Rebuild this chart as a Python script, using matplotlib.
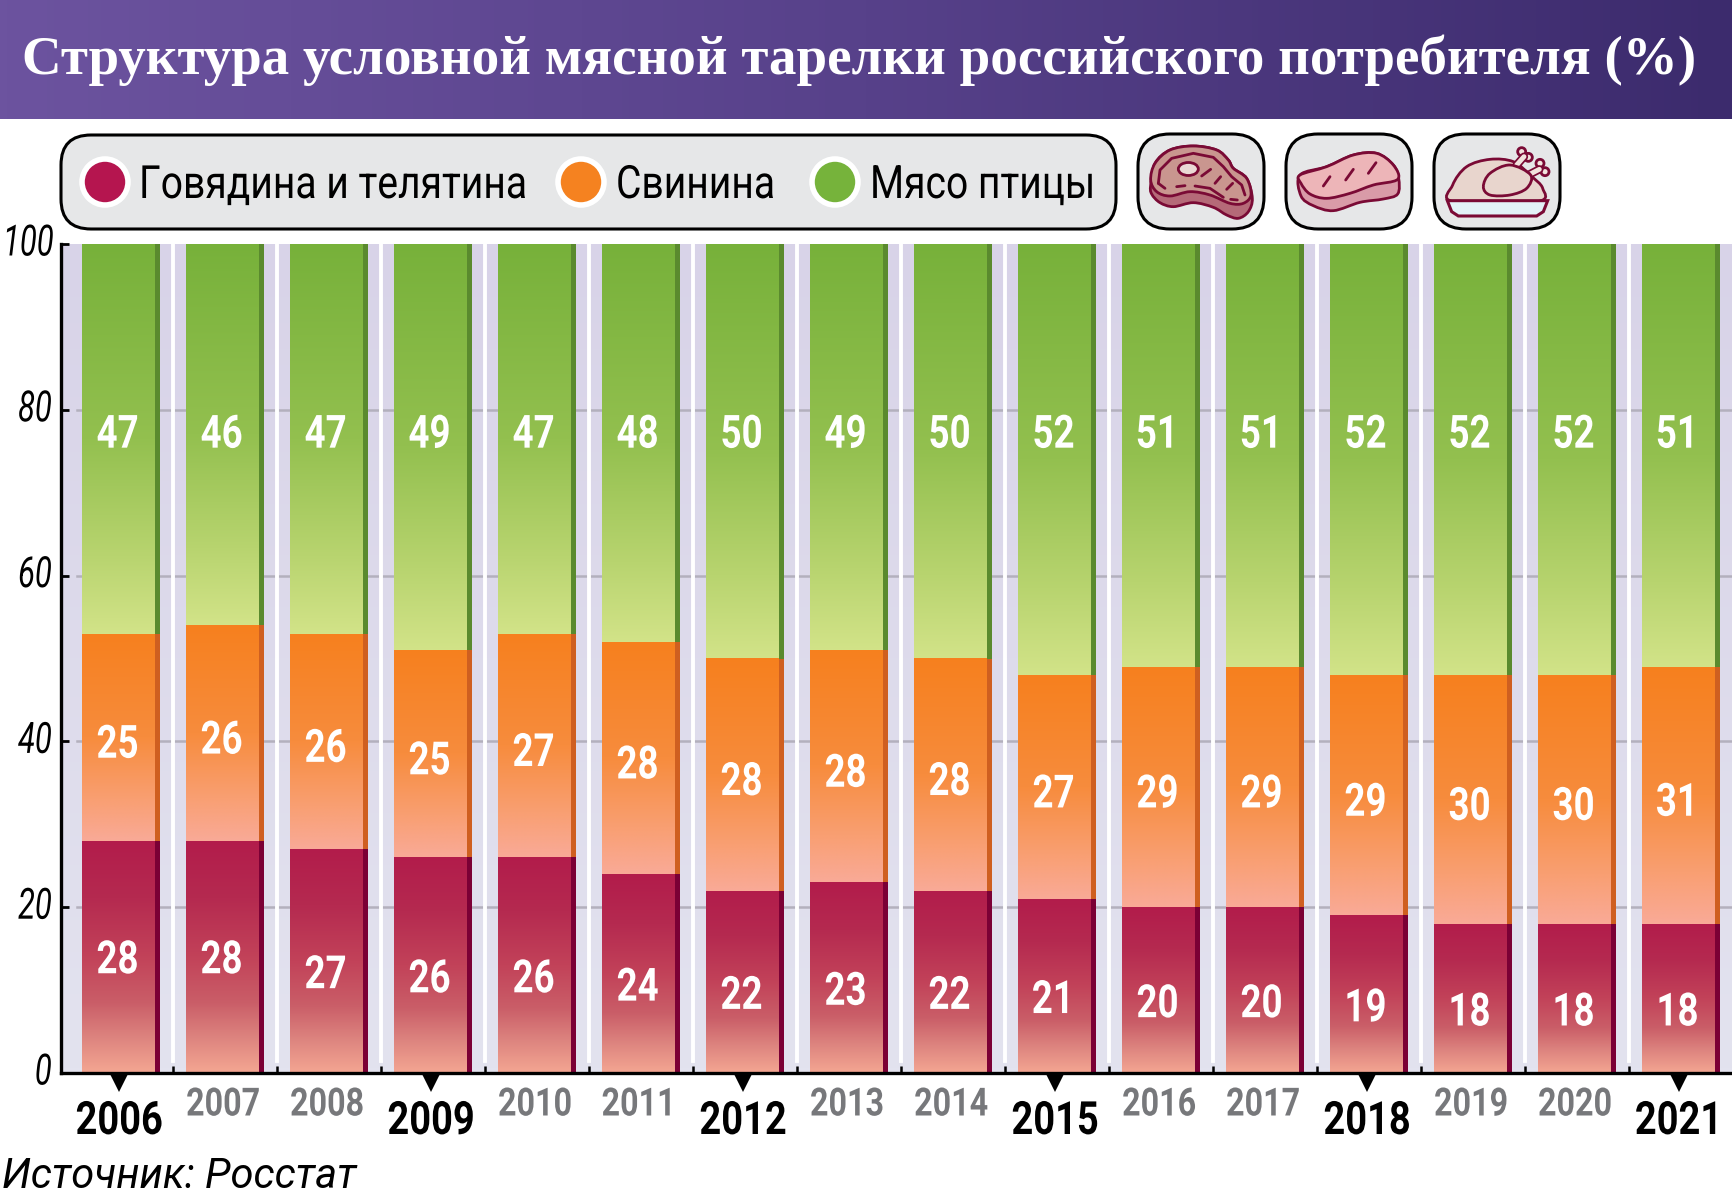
import numpy as np
import matplotlib
matplotlib.use("Agg")
import matplotlib.pyplot as plt
from matplotlib.colors import LinearSegmentedColormap
from matplotlib.patches import FancyBboxPatch, Circle, Ellipse, PathPatch, Polygon
from matplotlib.path import Path
from matplotlib.patheffects import AbstractPathEffect
from matplotlib.transforms import Affine2D

years = list(range(2006, 2022))
beef = [28, 28, 27, 26, 26, 24, 22, 23, 22, 21, 20, 20, 19, 18, 18, 18]
pork = [25, 26, 26, 25, 27, 28, 28, 28, 28, 27, 29, 29, 29, 30, 30, 31]
poultry = [47, 46, 47, 49, 47, 48, 50, 49, 50, 52, 51, 51, 52, 52, 52, 51]
legend_labels = ["Говядина и телятина", "Свинина", "Мясо птицы"]
y_ticks = [0, 20, 40, 60, 80, 100]
title = "Структура условной мясной тарелки российского потребителя (%)"
source = "Источник: Росстат"

NARROW = ["Roboto", "Open Sans", "DejaVu Sans"]
W, H = 1732, 1199
LINE = "#7a0a35"


class Squeeze(AbstractPathEffect):
    # no condensed font is installed, so narrow the glyphs when they are drawn
    def __init__(self, sx, anchor="left"):
        super().__init__()
        self.sx = sx
        self.anchor = anchor

    def draw_path(self, renderer, gc, tpath, affine, rgbFace=None):
        xs = tpath.vertices[:, 0]
        a = {"left": 0, "center": (xs.min() + xs.max()) / 2, "right": xs.max()}[self.anchor]
        squeezed = Affine2D().translate(-a, 0).scale(self.sx, 1).translate(a, 0) + affine
        renderer.draw_path(gc, tpath, squeezed, rgbFace)


def grad(*stops):
    return LinearSegmentedColormap.from_list("g", list(stops))


def vgrad(ax, extent, cmap, zorder=1):
    # top of the image is the first row
    return ax.imshow(np.linspace(0, 1, 256).reshape(-1, 1), extent=extent, cmap=cmap,
                     aspect="auto", zorder=zorder, interpolation="bilinear")


def smooth(points):
    # closed catmull-rom through the points, for the icons
    p = np.array(points, dtype=float)
    n = len(p)
    verts, codes = [p[0]], [Path.MOVETO]
    for i in range(n):
        a, b, c, d = p[i - 1], p[i], p[(i + 1) % n], p[(i + 2) % n]
        verts += [b + (c - a) / 6, c - (d - b) / 6, c]
        codes += [Path.CURVE4] * 3
    return Path(verts, codes)


fig = plt.figure(figsize=(W / 100, H / 100), dpi=100, facecolor="white")

# overlay in pixels for the header, legend and icons
over = fig.add_axes([0, 0, 1, 1], zorder=0)
band = over.imshow(np.linspace(0, 1, 256).reshape(1, -1), extent=[0, W, 119, 0], aspect="auto",
                   cmap=grad("#6c539f", "#57418a", "#3c2b6d"))
over.set_xlim(0, W)
over.set_ylim(H, 0)
over.axis("off")
over.text(22, 60, title, color="white", fontsize=39.6, fontweight="bold",
          family="Liberation Serif", va="center", ha="left")

box_kw = dict(facecolor="#e6e7e8", edgecolor="black", linewidth=2.2, mutation_aspect=1)
over.add_patch(FancyBboxPatch((61 + 30, 135 + 30), 1055 - 60, 94 - 60,
                              boxstyle="round,pad=30,rounding_size=30", **box_kw))
for bx in [1138, 1286, 1434]:
    over.add_patch(FancyBboxPatch((bx + 32, 134 + 32), 126 - 64, 95 - 64,
                                  boxstyle="round,pad=32,rounding_size=32", **box_kw))

for cx, col, lab, tx in zip([105, 581, 835], ["#b5154f", "#f58220", "#76b33b"], legend_labels, [139, 616, 870]):
    over.add_patch(Circle((cx, 182), 23, facecolor=col, edgecolor="white", linewidth=4))
    t = over.text(tx, 185, lab, fontsize=33, family=NARROW, color="black", va="center", ha="left")
    t.set_path_effects([Squeeze(0.852)])


def zx(pts):
    return [(1100 + x / 3, 120 + y / 3) for x, y in pts]


def blob(pts, fc, z=3):
    over.add_patch(PathPatch(smooth(zx(pts)), facecolor=fc, edgecolor=LINE, linewidth=2, zorder=z))


def stroke(pts, lw=2, z=7):
    xy = np.array(zx(pts))
    over.plot(xy[:, 0], xy[:, 1], color=LINE, linewidth=lw, solid_capstyle="round", zorder=z)


# steak
blob([(152, 195), (165, 130), (210, 90), (280, 78), (350, 90), (385, 120), (400, 145), (440, 175), (457, 235),
      (445, 275), (415, 295), (380, 285), (340, 262), (280, 248), (220, 260), (180, 248), (155, 222)], "#b56a78")
blob([(152, 180), (165, 130), (210, 90), (280, 78), (350, 90), (385, 120), (400, 145), (440, 175), (453, 225),
      (430, 250), (390, 250), (330, 225), (270, 215), (210, 228), (170, 215)], "#c9968f", 4)
over.add_patch(Ellipse(zx([(265, 147)])[0], 20, 13, facecolor="#ead9d5", edgecolor=LINE, linewidth=2, zorder=5))
stroke([(175, 190), (180, 150), (215, 115), (280, 100), (340, 112), (370, 140), (395, 170), (425, 195), (435, 225)])
stroke([(175, 190), (195, 205)])
stroke([(230, 200), (255, 197)])
stroke([(285, 198), (330, 205), (370, 232)])
stroke([(392, 238), (412, 240)])
for a, b in [((305, 168), (332, 148)), ((345, 190), (362, 170)), ((380, 208), (398, 190))]:
    stroke([a, b])

# second cut
blob([(600, 165), (680, 140), (760, 105), (830, 100), (880, 135), (896, 175), (893, 222), (850, 237), (780, 247),
      (700, 272), (640, 257), (603, 228)], "#d99ba8")
blob([(600, 165), (680, 140), (760, 105), (830, 100), (880, 135), (893, 178), (820, 195), (750, 220), (680, 235),
      (630, 222), (603, 190)], "#edb5b8", 4)
for a, b in [((670, 198), (690, 170)), ((737, 180), (760, 148)), ((805, 160), (828, 128))]:
    stroke([a, b])

# chicken on a plate
blob([(1060, 245), (1058, 195), (1100, 140), (1170, 118), (1240, 125), (1290, 165), (1328, 205), (1310, 245)], "#e8d5cd")
for a, b, knobs in [((1250, 135), (1272, 110), [(1265, 95), (1285, 112)]),
                    ((1285, 165), (1318, 148), [(1320, 130), (1335, 155)])]:
    for k in knobs:
        over.add_patch(Circle(zx([k])[0], 4, facecolor="#f2e3de", edgecolor=LINE, linewidth=2, zorder=4))
    stroke([a, b], 6, 4.1)
    over.plot(*np.array(zx([a, b])).T, color="#f2e3de", linewidth=3.5, solid_capstyle="round", zorder=4.2)
blob([(1150, 200), (1170, 160), (1230, 135), (1292, 165), (1280, 205), (1230, 225), (1170, 225)], "#e8d5cd", 5)
over.add_patch(Polygon(zx([(1042, 242), (1343, 242), (1330, 275), (1310, 288), (1075, 288), (1055, 275)]),
                       closed=True, facecolor="#e3f1f7", edgecolor=LINE, linewidth=2.2, zorder=6))

# chart
px_left, px_right, px_top, px_bottom = 61, W, 244, 1073
ax = fig.add_axes([px_left / W, (H - px_bottom) / H, (px_right - px_left) / W, (px_bottom - px_top) / H], zorder=1)
pitch = 104.0
center0 = 120.5
x0, x1 = (px_left - center0) / pitch, (px_right - center0) / pitch
ax.patch.set_alpha(0)

vgrad(ax, [x0, x1, 0, 100], grad("#d8d3e8", "#e3e3ef"), zorder=0)
for t in y_ticks[1:-1]:
    ax.plot([x0 + 0.15, x1], [t, t], color="#b3b0bd", linewidth=1.8, zorder=0.5)
for i in range(len(years) - 1):
    ax.plot([i + 0.5, i + 0.5], [1.5, 100], color="white", linewidth=2.8, zorder=0.6)

x = np.arange(len(years))
beef_arr, pork_arr, poultry_arr = np.array(beef), np.array(pork), np.array(poultry)
series = [
    (beef_arr, np.zeros(16),
     grad((0, "#b21c4b"), (0.25, "#b52a50"), (0.5, "#c24259"), (0.7, "#ca5e68"), (0.85, "#dd847f"), (1, "#f4a692")),
     "#7b0035"),
    (pork_arr, beef_arr, grad((0, "#f6801e"), (0.5, "#f78c3d"), (0.8, "#f99f72"), (1, "#f9aa97")), "#cf5f20"),
    (poultry_arr, beef_arr + pork_arr,
     grad((0, "#77b13a"), (0.5, "#93c04f"), (0.8, "#b8d46f"), (1, "#d2e388")), "#5a8a2e"),
]
face_w = 72.5 / pitch
side_w = 78.0 / pitch
for vals, bottoms, cm, c_side in series:
    ax.bar(x, vals, width=side_w, bottom=bottoms, color=c_side, linewidth=0, zorder=2)
    faces = ax.bar(x - (side_w - face_w) / 2, vals, width=face_w, bottom=bottoms, color="none",
                   linewidth=0, zorder=3)
    for r, v, b in zip(faces, vals, bottoms):
        vgrad(ax, [r.get_x(), r.get_x() + r.get_width(), b, b + v], cm, zorder=3)

ax.set_xlim(x0, x1)
ax.set_ylim(0, 100)

label_kw = dict(color="white", fontsize=33, family=NARROW, fontweight="bold", ha="center", va="center", zorder=5)
label_fx = [Squeeze(0.8, "center")]
lx = x - (side_w - face_w) / 2
for i in range(16):
    # the labels sit a little under the middle of their segment
    beef_y = 13.6 if beef[i] == 28 else beef[i] / 2 - 1.7
    ax.text(lx[i], beef_y, str(beef[i]), path_effects=label_fx, **label_kw)
    ax.text(lx[i], beef[i] + pork[i] / 2 - 0.9, str(pork[i]), path_effects=label_fx, **label_kw)
    ax.text(lx[i], 77.0, str(poultry[i]), path_effects=label_fx, **label_kw)

for s in ["top", "right"]:
    ax.spines[s].set_visible(False)
for s in ["left", "bottom"]:
    ax.spines[s].set_linewidth(2.4)
    ax.spines[s].set_zorder(6)

ax.set_yticks(y_ticks)
ax.set_yticklabels([])
ax.tick_params(axis="y", direction="in", length=6, width=2, zorder=6)
for t in y_ticks:
    # 100 is anchored on its left so that its box stays inside the figure
    wide = t == 100
    ax.annotate(str(t), (x0, t), xytext=(-58 if wide else -9, 0), textcoords="offset pixels",
                ha="left" if wide else "right", va="center",
                fontsize=31, family=NARROW, style="italic", color="black", annotation_clip=False,
                path_effects=[Squeeze(0.72, "left" if wide else "right")])

ax.set_xticks(x[:-1] + 0.5)
ax.set_xticklabels([])
ax.tick_params(axis="x", direction="in", length=5, width=1.8, top=False)

for i, yr in enumerate(years):
    major = i % 3 == 0
    if major:
        ax.plot(i - 0.01, -1.15, marker="v", markersize=13, color="black", clip_on=False, zorder=7,
                markeredgewidth=0)
    ax.annotate(str(yr), (lx[i] + 0.015, 0), xytext=(0, -48 if major else -32), textcoords="offset pixels",
                ha="center", va="center", family=NARROW, fontweight="bold",
                fontsize=33 if major else 28, color="black" if major else "#77787b", annotation_clip=False,
                path_effects=[Squeeze(0.83, "center")])

over.text(2, 1176, source, fontsize=30, style="italic", family=NARROW, color="black", va="center", ha="left")

fig.savefig("out.png", dpi=100)
